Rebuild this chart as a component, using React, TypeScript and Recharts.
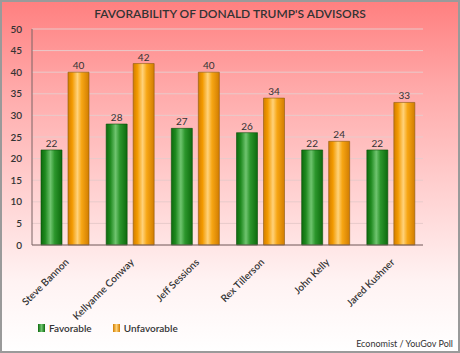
import React from "react";
import {
  BarChart,
  Bar,
  XAxis,
  YAxis,
  CartesianGrid,
  LabelList,
} from "recharts";

const advisors = [
  "Steve Bannon",
  "Kellyanne Conway",
  "Jeff Sessions",
  "Rex Tillerson",
  "John Kelly",
  "Jared Kushner",
];
const favorable = [22, 28, 27, 26, 22, 22];
const unfavorable = [40, 42, 40, 34, 24, 33];
const yTicks = [0, 5, 10, 15, 20, 25, 30, 35, 40, 45, 50];
const seriesNames = ["Favorable", "Unfavorable"];

const data = advisors.map((name, i) => ({
  name,
  fav: favorable[i],
  unfav: unfavorable[i],
}));

const FONT = "Lato, 'Open Sans', sans-serif";

const XTick = (props: any) => {
  const { x, y, payload } = props;
  return (
    <g transform={`translate(${x + 2},${y + 7})`}>
      <text
        x={0}
        y={0}
        dy={4}
        textAnchor="end"
        transform="rotate(-45)"
        fontSize={10}
        fontFamily={FONT}
        fontWeight={600}
        fill="#333"
      >
        {payload.value}
      </text>
    </g>
  );
};

export default function App() {
  return (
    <div
      style={{
        position: "absolute",
        left: 0,
        top: 0,
        width: 460,
        height: 353,
        background:
          "linear-gradient(to bottom, #ff7f7f 0%, #ffa9a9 25%, #ffd2d2 55%, #fff3f3 80%, #ffffff 100%)",
        fontFamily: FONT,
        overflow: "hidden",
      }}
    >
      <div
        style={{
          position: "absolute",
          left: 0,
          top: 6,
          width: 460,
          textAlign: "center",
          fontSize: 12,
          fontWeight: 600,
          color: "#333",
          letterSpacing: 0,
        }}
      >
        FAVORABILITY OF DONALD TRUMP'S ADVISORS
      </div>
      <BarChart
        width={460}
        height={353}
        data={data}
        margin={{ top: 29, right: 37, left: 8, bottom: 8 }}
        barCategoryGap={8}
        barGap={6}
        style={{ position: "absolute", left: 0, top: 0 }}
      >
        <defs>
          <linearGradient id="gGreen" x1="0" y1="0" x2="1" y2="0">
            <stop offset="0%" stopColor="#0d6a0d" />
            <stop offset="20%" stopColor="#1f8a1f" />
            <stop offset="45%" stopColor="#6fc46f" />
            <stop offset="65%" stopColor="#2c962c" />
            <stop offset="100%" stopColor="#0d6a0d" />
          </linearGradient>
          <linearGradient id="gOrange" x1="0" y1="0" x2="1" y2="0">
            <stop offset="0%" stopColor="#d27d00" />
            <stop offset="20%" stopColor="#f39a00" />
            <stop offset="45%" stopColor="#ffd27a" />
            <stop offset="65%" stopColor="#f7a614" />
            <stop offset="100%" stopColor="#d27d00" />
          </linearGradient>
        </defs>
        <CartesianGrid vertical={false} stroke="#e8caca" strokeWidth={1} />
        <XAxis
          dataKey="name"
          interval={0}
          height={100}
          tickLine={false}
          axisLine={{ stroke: "#7a6464", strokeWidth: 1 }}
          tick={<XTick />}
        />
        <XAxis
          xAxisId="top"
          dataKey="name"
          orientation="top"
          height={0}
          tick={false}
          tickLine={false}
          axisLine={{ stroke: "#7a6464", strokeWidth: 1 }}
        />
        <YAxis
          domain={[0, 50]}
          ticks={yTicks}
          width={24}
          interval={0}
          tickLine={false}
          axisLine={{ stroke: "#7a6464", strokeWidth: 1 }}
          tick={{ fontSize: 10, fill: "#333", fontFamily: FONT, fontWeight: 600 }}
          tickMargin={4}
        />
        <YAxis
          yAxisId="right"
          orientation="right"
          domain={[0, 50]}
          width={0}
          tick={false}
          tickLine={false}
          axisLine={{ stroke: "#7a6464", strokeWidth: 1 }}
        />
        <Bar
          dataKey="fav"
          name={seriesNames[0]}
          fill="url(#gGreen)"
          stroke="#0a4f0a"
          strokeOpacity={0.6}
          barSize={21}
          isAnimationActive={false}
        >
          <LabelList
            dataKey="fav"
            position="top"
            offset={3}
            fontSize={10}
            fill="#333"
            fontFamily={FONT}
          />
        </Bar>
        <Bar
          dataKey="unfav"
          name={seriesNames[1]}
          fill="url(#gOrange)"
          stroke="#8a5a10"
          strokeOpacity={0.6}
          barSize={21}
          isAnimationActive={false}
        >
          <LabelList
            dataKey="unfav"
            position="top"
            offset={3}
            fontSize={10}
            fill="#333"
            fontFamily={FONT}
          />
        </Bar>
      </BarChart>
      <div
        style={{
          position: "absolute",
          left: 38,
          top: 322,
          display: "flex",
          alignItems: "center",
          fontSize: 10,
          fontWeight: 600,
          color: "#333",
        }}
      >
        <span
          style={{
            display: "inline-block",
            width: 7,
            height: 8,
            background: "linear-gradient(to right, #0d6a0d, #6fc46f, #0d6a0d)",
            marginRight: 4,
          }}
        />
        <span style={{ marginRight: 21 }}>{seriesNames[0]}</span>
        <span
          style={{
            display: "inline-block",
            width: 7,
            height: 8,
            background: "linear-gradient(to right, #d27d00, #ffd27a, #d27d00)",
            marginRight: 4,
          }}
        />
        <span>{seriesNames[1]}</span>
      </div>
      <div
        style={{
          position: "absolute",
          right: 7,
          top: 338,
          fontSize: 9,
          color: "#333",
        }}
      >
        Economist / YouGov Poll
      </div>
      <div
        style={{
          position: "absolute",
          left: 0,
          top: 0,
          width: 460,
          height: 353,
          boxSizing: "border-box",
          border: "2px solid #9a9a9a",
          pointerEvents: "none",
        }}
      />
    </div>
  );
}
